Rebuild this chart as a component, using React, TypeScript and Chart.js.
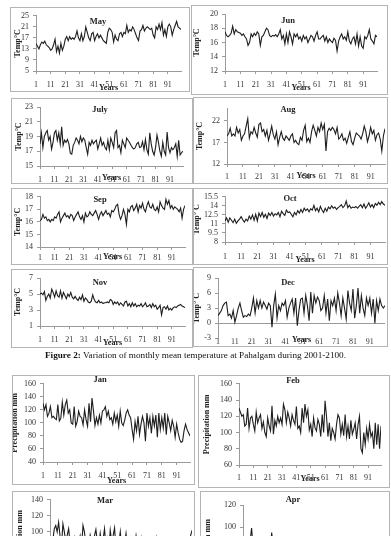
import React, { useEffect, useRef } from 'react';
import { Chart, registerables } from 'chart.js';

Chart.register(...registerables);

const FONT = '"Liberation Serif", "Times New Roman", serif';

// Year index 1..100 (2001-2100)
const years: number[] = Array.from({ length: 100 }, (_, i) => i + 1);
const xTickLabels = [1, 11, 21, 31, 41, 51, 61, 71, 81, 91];

// Monthly mean temperature (°C)
const mayTemp = [
  15, 14, 13, 14.5, 15.5, 15, 15.8, 14.5, 14, 13.5,
  12.5, 13, 14.5, 16.5, 12, 14, 11.5, 15, 12.5, 14,
  16.5, 17.5, 16, 17.5, 16.5, 17, 16.5, 17.5, 19.5, 17,
  16, 18.5, 16, 17.5, 21, 19, 17, 16, 18.5, 19,
  16, 17.5, 18.5, 17, 18, 17, 16, 15.5, 15, 19,
  20.5, 20, 19, 15.5, 18, 16.5, 16, 18.5, 19, 17.5,
  19, 18.5, 21.5, 19, 20, 19.5, 21, 20, 18.5, 17,
  16, 19.5, 20, 21.5, 19.5, 20.5, 21, 20.5, 20, 20.5,
  18, 17, 21, 20, 22, 20, 22.5, 18, 20, 17.5,
  21, 22, 21, 18, 20, 21.5, 23, 21, 20.5, 20,
];
const junTemp = [
  17.5, 17, 16.8, 17, 17.3, 18.3, 17.2, 17.8, 17.5, 17.4,
  17.3, 17, 17.2, 16.8, 16.5, 15.6, 16, 17.2, 16.8, 17.3,
  17, 17.5, 17.2, 15.6, 16.8, 17, 17.5, 18, 17.8, 17,
  16.8, 17, 16.9, 17.1, 16.8, 17.2, 17.8, 16.5, 17, 15.8,
  17.2, 16, 17.5, 16.8, 15.8, 17.2, 16.8, 17.2, 16.5, 16.8,
  16.2, 17, 16.5, 16.8, 16, 16.5, 17, 16.8, 16.2, 17,
  17.5, 16.5, 16.5, 16.8, 17, 16.2, 16.8, 16, 16.5, 16.2,
  16, 16.6, 16.3, 14.8, 16.2, 16.8, 17.2, 16.5, 16.8, 16.3,
  17.5, 16.2, 15.8, 16.5, 16.8, 15.8, 17.2, 15.5, 16.8, 15.5,
  15.2, 16.8, 16.5, 17, 17.8, 16.5, 16.2, 15.8, 17, 16.8,
];
const julTemp = [
  18, 19.5, 17.5, 19, 19.5, 19.8, 18.5, 19, 17.3, 18.2,
  19.5, 19.8, 18.5, 19.5, 18, 20.3, 17.8, 18.5, 18.2, 18.6,
  18, 16.7, 16.6, 17.8, 18.2, 18.8, 18.5, 18, 19, 18.3,
  18.8, 18.5, 17.5, 16.6, 18.2, 17.8, 18.5, 18, 18.3, 18.5,
  17.3, 18, 18.8, 17.8, 18.2, 17.5, 17.2, 18.5, 17.2, 18.8,
  18.2, 17.5, 19.5, 19.8, 17.5, 17.8, 16.8, 18.5, 18, 17.5,
  18.8, 18.5, 18.2, 17.8, 17.5, 17.3, 17.5, 18, 18.2, 17.5,
  17.6, 18.3, 17.2, 18.6, 17.2, 16.6, 19.5, 18, 17, 16.5,
  17.5, 19.2, 18.2, 17, 16.3, 18.2, 17, 16.5, 19.6, 17.5,
  16.8, 17.5, 17.2, 17.5, 18, 16.3, 18.5, 16.5, 16.8, 17,
];
const augTemp = [
  18.5, 19, 20.3, 18.5, 19, 18.5, 20.5, 19.2, 20, 17.5,
  18.5, 19, 20.8, 22.5, 18, 19.5, 19, 20.5, 19.2, 18.2,
  21.2, 21.5, 19.5, 20, 18.5, 19.8, 17.5, 19, 20.8, 18.8,
  17.8, 19.5, 16.5, 18.2, 19.5, 18, 17.5, 18.5, 18, 17.5,
  18.5, 19, 17, 17.5, 16.8, 16.5, 18.2, 17.5, 19.8, 21,
  17.2, 18, 17, 19.5, 21, 19.8, 18.5, 20.5, 19.5, 21.5,
  20, 21.2, 15, 19.5, 20.3, 19.8, 20.5, 20, 19, 20.5,
  17.8, 18.2, 19, 17.5, 18, 16.8, 18.2, 19.5, 17.2, 16.5,
  18, 19.2, 18.8, 18.5, 17.8, 19, 20.8, 19.5, 17.2, 18.5,
  20.5, 19, 19.8, 17.5, 18.8, 19.2, 17.8, 15, 18.5, 20.2,
];
const sepTemp = [
  16.1, 16.2, 16.6, 16.3, 16.4, 16.1, 16.2, 16.0, 16.2, 16.1,
  16.4, 16.3, 16.6, 16.8, 16.0, 16.3, 16.5, 16.7, 16.4, 16.5,
  16.3, 16.6, 16.5, 16.1, 16.4, 16.6, 16.8, 16.4, 16.2, 16.5,
  16.0, 16.7, 16.4, 16.5, 16.8, 16.6, 16.5, 16.7, 16.9, 16.6,
  16.2, 16.6, 16.8, 16.5, 16.7, 16.9, 16.6, 16.7, 16.4, 16.9,
  16.8, 17.0, 17.3, 17.4, 16.6, 16.2, 16.5, 17.0, 16.6, 15.8,
  17.0, 16.8, 17.2, 17.3, 16.9, 17.1, 17.4, 16.8, 17.3, 17.1,
  17.5, 17.0, 16.8, 17.3, 17.6, 17.2, 17.1, 17.4, 17.0, 16.9,
  17.2, 16.8, 17.6, 17.3, 17.1, 17.0, 17.8, 17.4, 17.7, 17.1,
  17.3, 17.0, 17.2, 17.1, 17.0, 16.8, 17.1, 16.3, 17.0, 17.3,
];
const octTemp = [
  11.5, 12.0, 11.3, 12.0, 11.6, 11.2, 11.8, 11.1, 11.5, 11.8,
  12.2, 11.7, 11.3, 11.8, 11.5, 12.3, 11.8, 12.5, 11.6, 12.6,
  11.5, 12.8, 12.2, 12.9, 12.1, 12.6, 11.9, 12.8, 12.4, 12.9,
  12.3, 12.7, 12.5, 12.9, 12.2, 13.1, 12.7, 12.4, 13.3, 12.9,
  13.0, 12.6, 12.2, 12.9, 12.5, 13.2, 12.8, 13.4, 12.9, 13.6,
  13.2, 13.5, 13.0, 13.5, 13.3, 14.1, 13.2, 13.6, 13.0, 13.9,
  13.3, 12.9, 13.6, 13.1, 13.8, 13.5, 14.0, 13.6, 13.8, 13.4,
  13.7, 13.9, 14.2, 13.7, 14.0, 14.8, 13.7, 14.1, 13.6, 13.8,
  13.7, 13.9, 13.6, 13.9, 14.2, 13.7, 14.3, 13.6, 14.0, 14.5,
  13.8, 14.2, 13.7, 14.4, 14.1, 14.6, 14.2, 14.7, 14.3, 14.1,
];
const novTemp = [
  5.0, 5.1, 4.9, 5.3, 4.2, 4.7, 5.0, 4.5, 5.6, 5.2,
  4.6, 5.4, 4.8, 4.6, 5.4, 4.5, 5.2, 4.8, 4.4, 5.0,
  4.7, 5.2, 4.6, 4.4, 4.7, 4.4, 4.2, 4.6, 4.3, 4.9,
  4.1, 4.5, 4.3, 4.0, 3.9, 4.1, 4.9, 4.3, 4.0, 3.9,
  4.2, 3.9, 4.0, 3.8, 3.9, 3.9, 4.0, 3.9, 4.3, 4.2,
  3.7, 4.0, 3.8, 4.0, 3.6, 3.9, 3.7, 3.5, 4.0, 4.1,
  3.5, 3.8, 3.4, 3.9, 3.5, 3.8, 3.4, 3.6, 3.5, 3.8,
  3.4, 3.6, 3.9, 3.4, 3.5, 3.7, 3.3, 3.8, 3.4, 3.6,
  3.1, 3.3, 3.6, 2.4, 3.3, 3.4, 3.1, 3.5, 3.0, 3.2,
  3.0, 3.3, 3.4, 3.3, 3.5, 3.6, 3.7, 3.5, 3.4, 3.3,
];
const decTemp = [
  1.5, 2.0, 2.5, 3.5, 4.0, 4.2, 1.5, 1.8, 1.0, 2.5,
  0.2, 1.5, 3.0, 4.0, 2.5, 1.2, 1.5, 1.3, 1.8, 1.5,
  3.0, 5.0, 2.0, 4.5, 3.0, 4.5, 3.0, 4.2, 3.5, 2.8,
  4.0, 3.5, -0.8, 3.5, 5.8, 1.0, 3.5, 2.5, 4.0, 3.5,
  4.5, 1.2, 3.0, 4.0, 4.8, 2.0, 5.0, -0.5, 2.5, 4.8,
  5.0, 2.0, 5.5, 3.5, 0.5, 6.2, 2.0, 5.5, 4.0, 5.2,
  4.5, 2.5, 3.0, 5.5, 2.0, 4.8, 0.5, 4.5, 3.5, 5.0,
  2.5, 6.0, 4.0, 1.5, 5.0, 3.0, 0.8, 6.5, 4.0, 2.5,
  6.8, 1.0, 3.5, 7.0, 2.0, 5.5, 3.0, 1.5, 5.0, 3.5,
  5.0, 2.0, 4.8, 0.0, 4.5, 2.5, 4.8, 3.5, 3.0, 3.5,
];

// Monthly precipitation (mm)
const janPrec = [
  130, 120, 128, 110, 115, 125, 108, 110, 107, 105,
  128, 103, 107, 132, 112, 128, 135, 115, 120, 100,
  98, 125, 95, 102, 118, 110, 108, 97, 120, 105,
  95, 130, 102, 138, 118, 96, 108, 98, 112, 100,
  118, 120, 125, 110, 118, 105, 108, 98, 115, 102,
  112, 95, 118, 100, 96, 104, 115, 120, 112, 108,
  90, 75, 102, 88, 110, 82, 98, 110, 100, 72,
  115, 95, 108, 84, 110, 95, 112, 78, 115, 90,
  108, 92, 115, 82, 110, 100, 88, 104, 95, 78,
  98, 85, 75, 70, 72, 88, 98, 90, 85, 80,
];
const febPrec = [
  130, 125, 120, 122, 108, 110, 130, 105, 118, 120,
  110, 102, 125, 112, 118, 122, 105, 113, 100, 95,
  118, 108, 102, 133, 98, 115, 108, 120, 112, 118,
  110, 135, 128, 112, 125, 118, 108, 122, 115, 110,
  132, 105, 108, 100, 130, 112, 135, 120, 128, 103,
  110, 95, 118, 106, 102, 116, 110, 95, 122, 100,
  139, 120, 95, 112, 90, 105, 100, 92, 110, 122,
  118, 98, 110, 96, 122, 95, 108, 92, 115, 98,
  104, 112, 92, 110, 120, 80, 75, 100, 85, 105,
  92, 110, 95, 100, 80, 112, 85, 110, 80, 108,
];
const marPrec = [
  85, 78, 90, 104, 108, 100, 112, 95, 82, 110,
  100, 88, 96, 104, 85, 90, 78, 92, 80, 88,
  86, 95, 80, 108, 100, 85, 90, 82, 96, 88,
  75, 95, 103, 88, 80, 98, 85, 90, 104, 82,
  92, 78, 102, 88, 95, 105, 80, 92, 86, 100,
  78, 90, 85, 98, 82, 88, 75, 92, 86, 80,
  95, 82, 88, 78, 92, 80, 85, 76, 90, 82,
  86, 78, 88, 80, 92, 75, 85, 80, 88, 76,
  82, 90, 78, 85, 80, 76, 88, 82, 78, 85,
  80, 76, 82, 78, 80, 85, 78, 80, 95, 102,
];
const aprPrec = [
  80, 75, 85, 70, 78, 88, 99, 82, 72, 80,
  76, 85, 70, 82, 78, 74, 86, 80, 72, 78,
  95, 82, 76, 84, 70, 78, 88, 75, 80, 72,
  82, 76, 70, 85, 78, 72, 80, 68, 84, 75,
  70, 78, 82, 74, 68, 80, 76, 85, 72, 78,
  74, 68, 80, 76, 70, 84, 72, 78, 66, 80,
  72, 78, 70, 82, 68, 75, 80, 70, 76, 72,
  68, 76, 72, 80, 66, 74, 70, 78, 72, 68,
  75, 70, 66, 78, 72, 68, 74, 70, 65, 72,
  70, 66, 74, 68, 72, 64, 70, 68, 72, 70,
];

const tempTitle = 'Temp°C';
const tempTitleSp = 'Temp° C';
const precTitle = 'Precipitation mm';

interface Spec {
  title: string;
  box: [number, number, number, number];
  plot: [number, number, number, number];
  yMin: number;
  yMax: number;
  yTicks: number[];
  yTitle: string;
  yTitleX: number;
  xLabelY: number;
  yearsY: number;
  titleX: number;
  titleY: number;
  values: number[];
  zeroLine?: boolean;
}

const panels: Spec[] = [
  { title: 'May', box: [10, 7, 180, 85], plot: [36, 15, 181, 71], yMin: 5, yMax: 25, yTicks: [5, 9, 13, 17, 21, 25], yTitle: tempTitle, yTitleX: 18, xLabelY: 84, yearsY: 88, titleX: 98, titleY: 22, values: mayTemp },
  { title: 'Jun', box: [191, 5, 197, 90], plot: [225, 14, 377, 71], yMin: 12, yMax: 20, yTicks: [12, 14, 16, 18, 20], yTitle: tempTitle, yTitleX: 197, xLabelY: 84, yearsY: 88, titleX: 288, titleY: 21, values: junTemp },
  { title: 'July', box: [11, 98, 182, 86], plot: [40, 107, 183, 166], yMin: 15, yMax: 23, yTicks: [15, 17, 19, 21, 23], yTitle: tempTitle, yTitleX: 19, xLabelY: 179, yearsY: 178, titleX: 100, titleY: 110, values: julTemp },
  { title: 'Aug', box: [193, 97, 195, 87], plot: [227, 108, 385, 164], yMin: 12, yMax: 25, yTicks: [12, 17, 22], yTitle: tempTitle, yTitleX: 200, xLabelY: 176, yearsY: 176, titleX: 288, titleY: 110, values: augTemp },
  { title: 'Sep', box: [11, 188, 182, 77], plot: [40, 196, 185, 247], yMin: 14, yMax: 18, yTicks: [14, 15, 16, 17, 18], yTitle: tempTitle, yTitleX: 18, xLabelY: 257, yearsY: 257, titleX: 100, titleY: 200, values: sepTemp },
  { title: 'Oct', box: [193, 188, 195, 77], plot: [225, 196, 385, 242], yMin: 8, yMax: 15.5, yTicks: [8, 9.5, 11, 12.5, 14, 15.5], yTitle: tempTitleSp, yTitleX: 197, xLabelY: 256, yearsY: 260, titleX: 290, titleY: 199, values: octTemp },
  { title: 'Nov', box: [11, 269, 182, 79], plot: [40, 278, 185, 326], yMin: 1, yMax: 7, yTicks: [1, 3, 5, 7], yTitle: tempTitle, yTitleX: 18, xLabelY: 339, yearsY: 343, titleX: 100, titleY: 283, values: novTemp },
  { title: 'Dec', box: [193, 267, 195, 80], plot: [218, 278, 385, 340], yMin: -3, yMax: 9, yTicks: [-3, 0, 3, 6, 9], yTitle: tempTitleSp, yTitleX: 197, xLabelY: 340, yearsY: 342, titleX: 288, titleY: 283, values: decTemp, zeroLine: true },
  { title: 'Jan', box: [12, 375, 183, 110], plot: [43, 381, 190, 462], yMin: 40, yMax: 160, yTicks: [40, 60, 80, 100, 120, 140, 160], yTitle: precTitle, yTitleX: 15, xLabelY: 475, yearsY: 481, titleX: 100, titleY: 380, values: janPrec },
  { title: 'Feb', box: [198, 375, 192, 113], plot: [239, 382, 381, 465], yMin: 60, yMax: 160, yTicks: [60, 80, 100, 120, 140, 160], yTitle: precTitle, yTitleX: 207, xLabelY: 477, yearsY: 479, titleX: 293, titleY: 381, values: febPrec },
  { title: 'Mar', box: [12, 491, 183, 110], plot: [50, 497, 192, 580], yMin: 40, yMax: 140, yTicks: [40, 60, 80, 100, 120, 140], yTitle: precTitle, yTitleX: 20, xLabelY: 593, yearsY: 597, titleX: 105, titleY: 501, values: marPrec },
  { title: 'Apr', box: [200, 491, 190, 125], plot: [243, 505, 385, 593], yMin: 40, yMax: 120, yTicks: [40, 60, 80, 100, 120], yTitle: precTitle, yTitleX: 208, xLabelY: 606, yearsY: 610, titleX: 293, titleY: 500, values: aprPrec },
];

const panelTitlePlugin = {
  id: 'panelTitle',
  afterDraw(chart: any, _args: any, opts: any) {
    const ctx = chart.ctx;
    ctx.save();
    ctx.font = `bold 8.5px ${FONT}`;
    ctx.fillStyle = '#222';
    ctx.textAlign = 'center';
    ctx.textBaseline = 'middle';
    ctx.fillText(opts.text, opts.x, opts.y);
    ctx.restore();
  },
};

function Panel({ s }: { s: Spec }) {
  const ref = useRef<HTMLCanvasElement>(null);
  const [bx, by, bw, bh] = s.box;
  useEffect(() => {
    const [pl, pt, pr, pb] = s.plot;
    const tl = 3;
    const fs = 8;
    const xAxisH = bh - (pb - by);
    const axisColor = '#9a9a9a';
    const chart = new Chart(ref.current as HTMLCanvasElement, {
      type: 'line',
      data: {
        datasets: [
          {
            data: s.values.map((v, i) => ({ x: years[i], y: v })),
            borderColor: '#1e1e1e',
            borderWidth: 1.1,
            pointRadius: 0,
            tension: 0,
            fill: false,
          },
        ],
      },
      options: {
        responsive: false,
        animation: false,
        devicePixelRatio: 1,
        layout: { padding: { left: 0, top: pt - by, right: bx + bw - pr, bottom: 0 } },
        plugins: {
          legend: { display: false },
          tooltip: { enabled: false },
          panelTitle: { text: s.title, x: s.titleX - bx, y: s.titleY - by },
        } as any,
        scales: {
          x: {
            type: 'linear',
            min: 1,
            max: 100,
            afterBuildTicks: (sc: any) => {
              sc.ticks = xTickLabels.map((v) => ({ value: v }));
            },
            afterFit: (sc: any) => {
              sc.height = xAxisH;
            },
            ticks: {
              font: { family: FONT, size: fs },
              color: '#333',
              padding: s.xLabelY - pb - (s.zeroLine ? 0 : tl) - fs / 2,
              maxRotation: 0,
              autoSkip: false,
            },
            grid: { display: !s.zeroLine, drawOnChartArea: false, drawTicks: true, tickLength: tl, color: axisColor },
            border: { display: !s.zeroLine, color: axisColor },
            title: {
              display: true,
              text: 'Years',
              font: { family: FONT, size: fs, weight: 'bold', lineHeight: 1 },
              color: '#222',
              padding: { top: 0, bottom: bh - (s.yearsY - by) - fs / 2 },
            },
          },
          y: {
            min: s.yMin,
            max: s.yMax,
            afterBuildTicks: (sc: any) => {
              sc.ticks = s.yTicks.map((v) => ({ value: v }));
            },
            afterFit: (sc: any) => {
              sc.width = pl - bx;
            },
            ticks: { font: { family: FONT, size: fs }, color: '#333', padding: 4, autoSkip: false },
            grid: {
              drawOnChartArea: !!s.zeroLine,
              drawTicks: true,
              tickLength: tl,
              color: s.zeroLine
                ? (c: any) => (c.tick && c.tick.value === 0 ? axisColor : 'rgba(0,0,0,0)')
                : axisColor,
              tickColor: axisColor,
            },
            border: { color: axisColor },
            title: {
              display: true,
              text: s.yTitle,
              font: { family: FONT, size: fs, weight: 'bold', lineHeight: 1 },
              color: '#222',
              padding: { top: s.yTitleX - bx - fs / 2, bottom: 0 },
            },
          },
        },
      } as any,
      plugins: [panelTitlePlugin as any],
    });
    return () => chart.destroy();
  }, []);
  return (
    <div style={{ position: 'absolute', left: bx, top: by, width: bw, height: bh, overflow: 'hidden' }}>
      <canvas ref={ref} width={bw} height={bh} style={{ position: 'absolute', left: 0, top: 0, width: bw, height: bh }} />
      <div style={{ position: 'absolute', left: 0, top: 0, width: bw, height: bh, border: '1px solid #b4b4b4', boxSizing: 'border-box' }} />
    </div>
  );
}

export default function App() {
  return (
    <div style={{ position: 'fixed', left: 0, top: 0, width: 391, height: 536, background: '#fff', overflow: 'hidden' }}>
      {panels.map((s) => (
        <Panel key={s.title} s={s} />
      ))}
      <div
        style={{
          position: 'absolute',
          left: 0,
          top: 349,
          width: 391,
          textAlign: 'center',
          fontFamily: FONT,
          fontSize: 9.2,
          lineHeight: '12px',
          color: '#111',
        }}
      >
        <b>Figure 2:</b> Variation of monthly mean temperature at Pahalgam during 2001-2100.
      </div>
    </div>
  );
}
